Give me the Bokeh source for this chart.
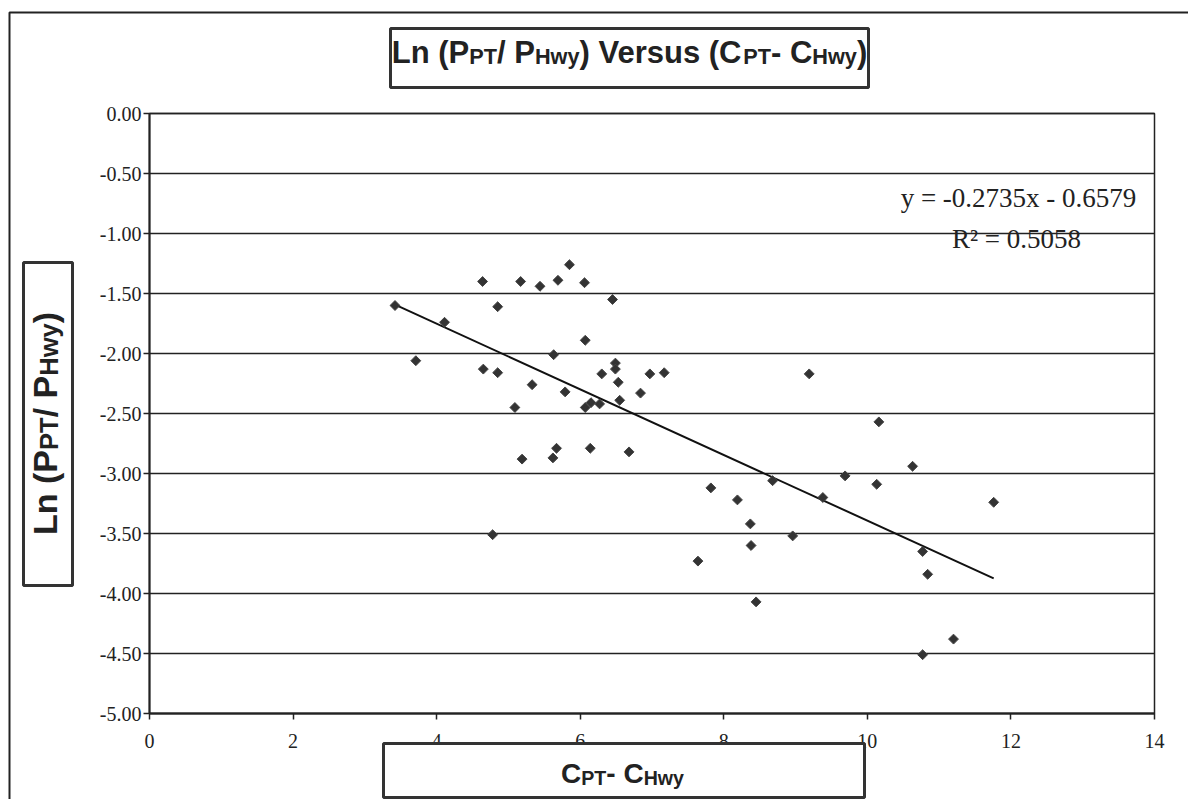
import math
from bokeh.plotting import figure
from bokeh.models import Range1d, FixedTicker, Label, BoxAnnotation, LinearAxis
from bokeh.embed import file_html
from bokeh.resources import INLINE

# ---------------- data ----------------
x_vals = [3.42, 3.71, 4.11, 4.64, 4.65, 4.78, 4.85, 4.85, 5.09, 5.17,
          5.19, 5.33, 5.44, 5.62, 5.63, 5.67, 5.69, 5.79, 5.85, 6.06,
          6.07, 6.07, 6.14, 6.15, 6.27, 6.30, 6.45, 6.49, 6.49, 6.53,
          6.55, 6.68, 6.84, 6.97, 7.17, 7.64, 7.82, 8.19, 8.37, 8.38,
          8.45, 8.68, 8.96, 9.19, 9.38, 9.69, 10.13, 10.16, 10.63, 10.77,
          10.77, 10.84, 11.20, 11.76]
y_vals = [-1.60, -2.06, -1.74, -1.40, -2.13, -3.51, -1.61, -2.16, -2.45, -1.40,
          -2.88, -2.26, -1.44, -2.87, -2.01, -2.79, -1.39, -2.32, -1.26, -1.41,
          -1.89, -2.45, -2.79, -2.41, -2.42, -2.17, -1.55, -2.08, -2.13, -2.24,
          -2.39, -2.82, -2.33, -2.17, -2.16, -3.73, -3.12, -3.22, -3.42, -3.60,
          -4.07, -3.06, -3.52, -2.17, -3.20, -3.02, -3.09, -2.57, -2.94, -3.65,
          -4.51, -3.84, -4.38, -3.24]
slope = -0.2735
intercept = -0.6579
r_squared = 0.5058

x_ticks = [0, 2, 4, 6, 8, 10, 12, 14]
x_tick_labels = ["0", "2", "4", "6", "8", "10", "12", "14"]
y_ticks = [0.0, -0.5, -1.0, -1.5, -2.0, -2.5, -3.0, -3.5, -4.0, -4.5, -5.0]
y_tick_labels = ["0.00", "-0.50", "-1.00", "-1.50", "-2.00", "-2.50",
                 "-3.00", "-3.50", "-4.00", "-4.50", "-5.00"]

title_parts = [("Ln (P", False), ("PT", True), ("/ P", False), ("Hwy", True),
               (") Versus (C", False), ("PT", True), ("- C", False), ("Hwy", True), (")", False)]
ylabel_parts = [("Ln (P", False), ("PT", True), ("/ P", False), ("Hwy", True), (")", False)]
xlabel_parts = [("C", False), ("PT", True), ("- C", False), ("Hwy", True)]
equation_text = "y = %.4fx - %.4f" % (slope, abs(intercept))
r2_text = "R\u00b2 = %.4f" % r_squared

# ---------------- layout ----------------
W, H = 1188, 799
FL, FR, FT, FB = 149, 1154, 113, 713   # plot-area edges in canvas pixels
X0, X1, Y0, Y1 = x_ticks[0], x_ticks[-1], y_ticks[-1], y_ticks[0]

def X(px):
    return X0 + (px - FL) / (FR - FL) * (X1 - X0)

def Y(py):
    return Y1 - (py - FT) / (FB - FT) * (Y1 - Y0)

INK = "#222222"
SANS = "Liberation Sans"
SERIF = "Liberation Serif"

# the frame covers the whole canvas so that boxes and labels outside the plot area are drawn
p = figure(width=W, height=H, output_backend="svg", toolbar_location=None,
           x_range=Range1d(X(0), X(W)), y_range=Range1d(Y(H), Y(0)),
           x_axis_location=None, y_axis_location=None,
           min_border=0)
p.background_fill_color = "white"
p.border_fill_color = "white"
p.outline_line_color = None
p.xgrid.visible = False
p.ygrid.visible = False

xaxis = LinearAxis(fixed_location=Y0, bounds=(X0, X1), level="underlay")
yaxis = LinearAxis(fixed_location=X0, bounds=(Y0, Y1), level="underlay")
p.add_layout(xaxis, "below")
p.add_layout(yaxis, "left")

for ax, ticks, labels in ((xaxis, x_ticks, x_tick_labels), (yaxis, y_ticks, y_tick_labels)):
    ax.ticker = FixedTicker(ticks=ticks)
    ax.major_label_overrides = {t: l for t, l in zip(ticks, labels)}
    ax.axis_line_color = INK
    ax.axis_line_width = 2
    ax.major_tick_line_color = INK
    ax.major_tick_line_width = 1.5
    ax.major_tick_out = 6
    ax.major_tick_in = 0
    ax.minor_tick_line_color = None
    ax.major_label_text_font = SERIF
    ax.major_label_text_font_size = "20px"
    ax.major_label_text_color = INK
xaxis.major_label_standoff = 14
yaxis.major_label_standoff = 2

# horizontal gridlines at the y ticks, across the plot area
p.segment(x0=[X0] * len(y_ticks), y0=y_ticks, x1=[X1] * len(y_ticks), y1=y_ticks,
          line_color=INK, line_width=1.5)
# plot-area outline
p.add_layout(BoxAnnotation(left=X0, right=X1, top=Y1, bottom=Y0,
                           fill_alpha=0, line_color=INK, line_alpha=1.0, line_width=1.5))

# trend line over the data span
xmin, xmax = min(x_vals), max(x_vals)
p.line([xmin, xmax], [slope * xmin + intercept, slope * xmax + intercept],
       line_color="#111111", line_width=2)

p.scatter(x_vals, y_vals, marker="square", angle=math.pi / 4, size=7,
          fill_color="#333333", line_color="#444444", line_width=1)

# equation labels (y given as the centre of the capitals)
p.add_layout(Label(x=X(1018), y=Y(197), text=equation_text, text_font=SERIF,
                   text_font_size="27px", text_color=INK, text_align="center",
                   text_baseline="alphabetic"))
p.add_layout(Label(x=X(1016), y=Y(238), text=r2_text, text_font=SERIF,
                   text_font_size="27px", text_color=INK, text_align="center",
                   text_baseline="alphabetic"))

# outer chart border (top and left visible)
p.add_layout(BoxAnnotation(left=X(9), right=X(W + 20), top=Y(12), bottom=Y(H + 20),
                           fill_alpha=0, line_color=INK, line_alpha=1.0, line_width=2))

# boxes for title and axis titles
def box(l, t, r, b):
    p.add_layout(BoxAnnotation(left=X(l), right=X(r), top=Y(t), bottom=Y(b),
                               fill_color="white", fill_alpha=1.0,
                               line_color="#333333", line_alpha=1.0, line_width=3,
                               level="overlay"))

box(390, 28, 868, 87)
box(23, 262, 72, 585)
box(383, 743, 864, 797)

# Arial/Liberation Sans Bold advance widths (per 1000 em)
BW = {" ": 278, "(": 333, ")": 333, "/": 278, "-": 333, "C": 722, "H": 722, "L": 611,
      "P": 667, "T": 611, "V": 667, "e": 556, "n": 611, "r": 389, "s": 556, "u": 611,
      "w": 778, "y": 556}

def width(s, size):
    return sum(BW.get(c, 556) for c in s) / 1000.0 * size

def rich(parts, size, ratio, center, mid, vertical=False):
    # subscripts share the baseline of the full-size text
    drop = 0.358 * size * (1 - ratio) + 1
    sizes = [size * ratio if sub else size for _, sub in parts]
    total = sum(width(t, s) for (t, _), s in zip(parts, sizes))
    pos = center - total / 2.0
    for (t, sub), s in zip(parts, sizes):
        d = drop if sub else 0
        if not vertical:
            lx, ly, ang = X(pos), Y(mid + d), 0
        else:
            lx, ly, ang = X(mid + d), Y(2 * center - pos), math.pi / 2
        p.add_layout(Label(x=lx, y=ly, text=t, angle=ang, text_font=SANS,
                           text_font_style="bold", text_font_size="%.1fpx" % s,
                           text_color=INK, text_align="left", text_baseline="alphabetic",
                           level="overlay"))
        pos += width(t, s)

rich(title_parts, 31, 0.7, 629, 52)
rich(xlabel_parts, 28, 0.7, 622, 773)
rich(ylabel_parts, 34, 0.75, 423, 44, vertical=True)

open("out.html", "w").write(file_html(p, INLINE))
